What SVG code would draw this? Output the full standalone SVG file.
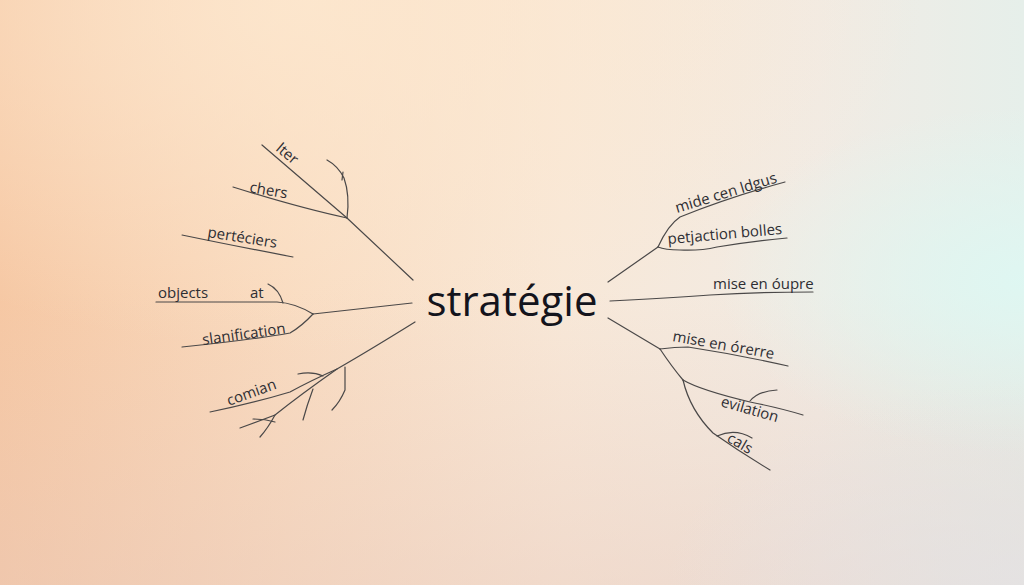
<svg xmlns="http://www.w3.org/2000/svg" width="1024" height="585" viewBox="0 0 1024 585">
<defs>
<linearGradient id="bgx" x1="0" y1="0" x2="1" y2="0">
<stop offset="0" stop-color="#f6c8a4"/>
<stop offset="0.28" stop-color="#f9dbc0"/>
<stop offset="0.55" stop-color="#f8e8d8"/>
<stop offset="0.8" stop-color="#f1ebe4"/>
<stop offset="1" stop-color="#e6efea"/>
</linearGradient>
<radialGradient id="cream" cx="0.3" cy="0" r="0.6">
<stop offset="0" stop-color="#fde8cf" stop-opacity="0.85"/>
<stop offset="1" stop-color="#fde8cf" stop-opacity="0"/>
</radialGradient>
<linearGradient id="bot" x1="0" y1="0" x2="0" y2="1">
<stop offset="0.5" stop-color="#e6c6ba" stop-opacity="0"/>
<stop offset="1" stop-color="#e6c6ba" stop-opacity="0.4"/>
</linearGradient>
<radialGradient id="mint" cx="1" cy="0.48" r="0.3">
<stop offset="0" stop-color="#def7f2" stop-opacity="0.95"/>
<stop offset="1" stop-color="#def7f2" stop-opacity="0"/>
</radialGradient>
<radialGradient id="grayr" cx="1" cy="1" r="0.35">
<stop offset="0" stop-color="#e4e3e5" stop-opacity="0.8"/>
<stop offset="1" stop-color="#e4e3e5" stop-opacity="0"/>
</radialGradient>
<style>
.ln{fill:none;stroke:#4a4848;stroke-width:1.2;stroke-linecap:round}
.lb{font-family:"Open Sans","Noto Sans","DejaVu Sans",sans-serif;font-size:15px;fill:#2e2e33}
.ct{font-family:"Open Sans","Noto Sans","DejaVu Sans",sans-serif;font-size:42px;font-weight:500;fill:#14141c}
</style>
</defs>
<rect width="1024" height="585" fill="url(#bgx)"/>
<rect width="1024" height="585" fill="url(#cream)"/>
<rect width="1024" height="585" fill="url(#bot)"/>
<rect width="1024" height="585" fill="url(#mint)"/>
<rect width="1024" height="585" fill="url(#grayr)"/>

<g id="connectors">
<path class="ln" d="M413 280 L347 218 L262 145"/>
<path class="ln" d="M347 218 Q300 208 233 187"/>
<path class="ln" d="M347 218 Q350 195 344 178 Q338 166 327 160"/>
<path class="ln" d="M343 172 L342 180"/>
<path class="ln" d="M182 235 Q230 245 293 257"/>
<path class="ln" d="M412 303 L313 314"/>
<path class="ln" d="M313 314 Q295 303 277 302 L156 302"/>
<path class="ln" d="M283 303 Q279 289 268 284"/>
<path class="ln" d="M313 314 Q302 326 290 333 Q250 340 182 347"/>
<path class="ln" d="M415 322 Q370 350 337 369 Q310 381 290 392 Q250 404 210 412"/>
<path class="ln" d="M337 369 Q300 395 275 415 L240 428"/>
<path class="ln" d="M275 415 Q268 428 260 437"/>
<path class="ln" d="M253 419 Q265 419 275 422"/>
<path class="ln" d="M313 389 Q307 405 303 420"/>
<path class="ln" d="M345 367 L345 390 Q340 402 332 410"/>
<path class="ln" d="M298 374 Q312 371 323 376"/>
<path class="ln" d="M608 282 L658 247"/>
<path class="ln" d="M658 247 Q668 225 680 217 Q730 197 785 182"/>
<path class="ln" d="M658 247 Q665 250 680 250 Q700 251 717 247 Q755 241 787 238"/>
<path class="ln" d="M610 301 Q670 298 710 295 Q760 292 813 292"/>
<path class="ln" d="M608 318 L660 349"/>
<path class="ln" d="M660 349 Q675 347 688 347 Q740 355 788 366"/>
<path class="ln" d="M660 349 Q672 367 683 380"/>
<path class="ln" d="M683 380 Q700 390 750 402 Q780 408 803 415"/>
<path class="ln" d="M750 401 Q758 391 777 390"/>
<path class="ln" d="M683 380 Q690 410 713 433 Q740 452 770 470"/>
<path class="ln" d="M717 436 Q735 428 752 438"/>
</g>

<g id="center"><text class="ct" x="512" y="316" text-anchor="middle">stratégie</text></g>
<g id="n-lter"><text class="lb" x="275" y="150" transform="rotate(40 275 150)">lter</text></g>
<g id="n-chers"><text class="lb" x="249" y="192" transform="rotate(10 249 192)">chers</text></g>
<g id="n-perteciers"><text class="lb" x="207" y="237" transform="rotate(9 207 237)">pertéciers</text></g>
<g id="n-objects"><text class="lb" x="158" y="298">objects</text></g>
<g id="n-at"><text class="lb" x="250" y="298">at</text></g>
<g id="n-slanification"><text class="lb" x="203" y="345" transform="rotate(-8 203 345)">slanification</text></g>
<g id="n-comian"><text class="lb" x="229" y="406" transform="rotate(-20 229 406)">comian</text></g>
<g id="n-mide"><text class="lb" x="677" y="213" transform="rotate(-17 677 213)">mide cen ldgus</text></g>
<g id="n-petjaction"><text class="lb" x="668" y="244" transform="rotate(-5 668 244)">petjaction bolles</text></g>
<g id="n-oupre"><text class="lb" x="713" y="289">mise en óupre</text></g>
<g id="n-orerre"><text class="lb" x="672" y="341" transform="rotate(10 672 341)">mise en órerre</text></g>
<g id="n-evilation"><text class="lb" x="720" y="406" transform="rotate(16 720 406)">evilation</text></g>
<g id="n-cals"><text class="lb" x="726" y="441" transform="rotate(30 726 441)">cals</text></g>
</svg>
